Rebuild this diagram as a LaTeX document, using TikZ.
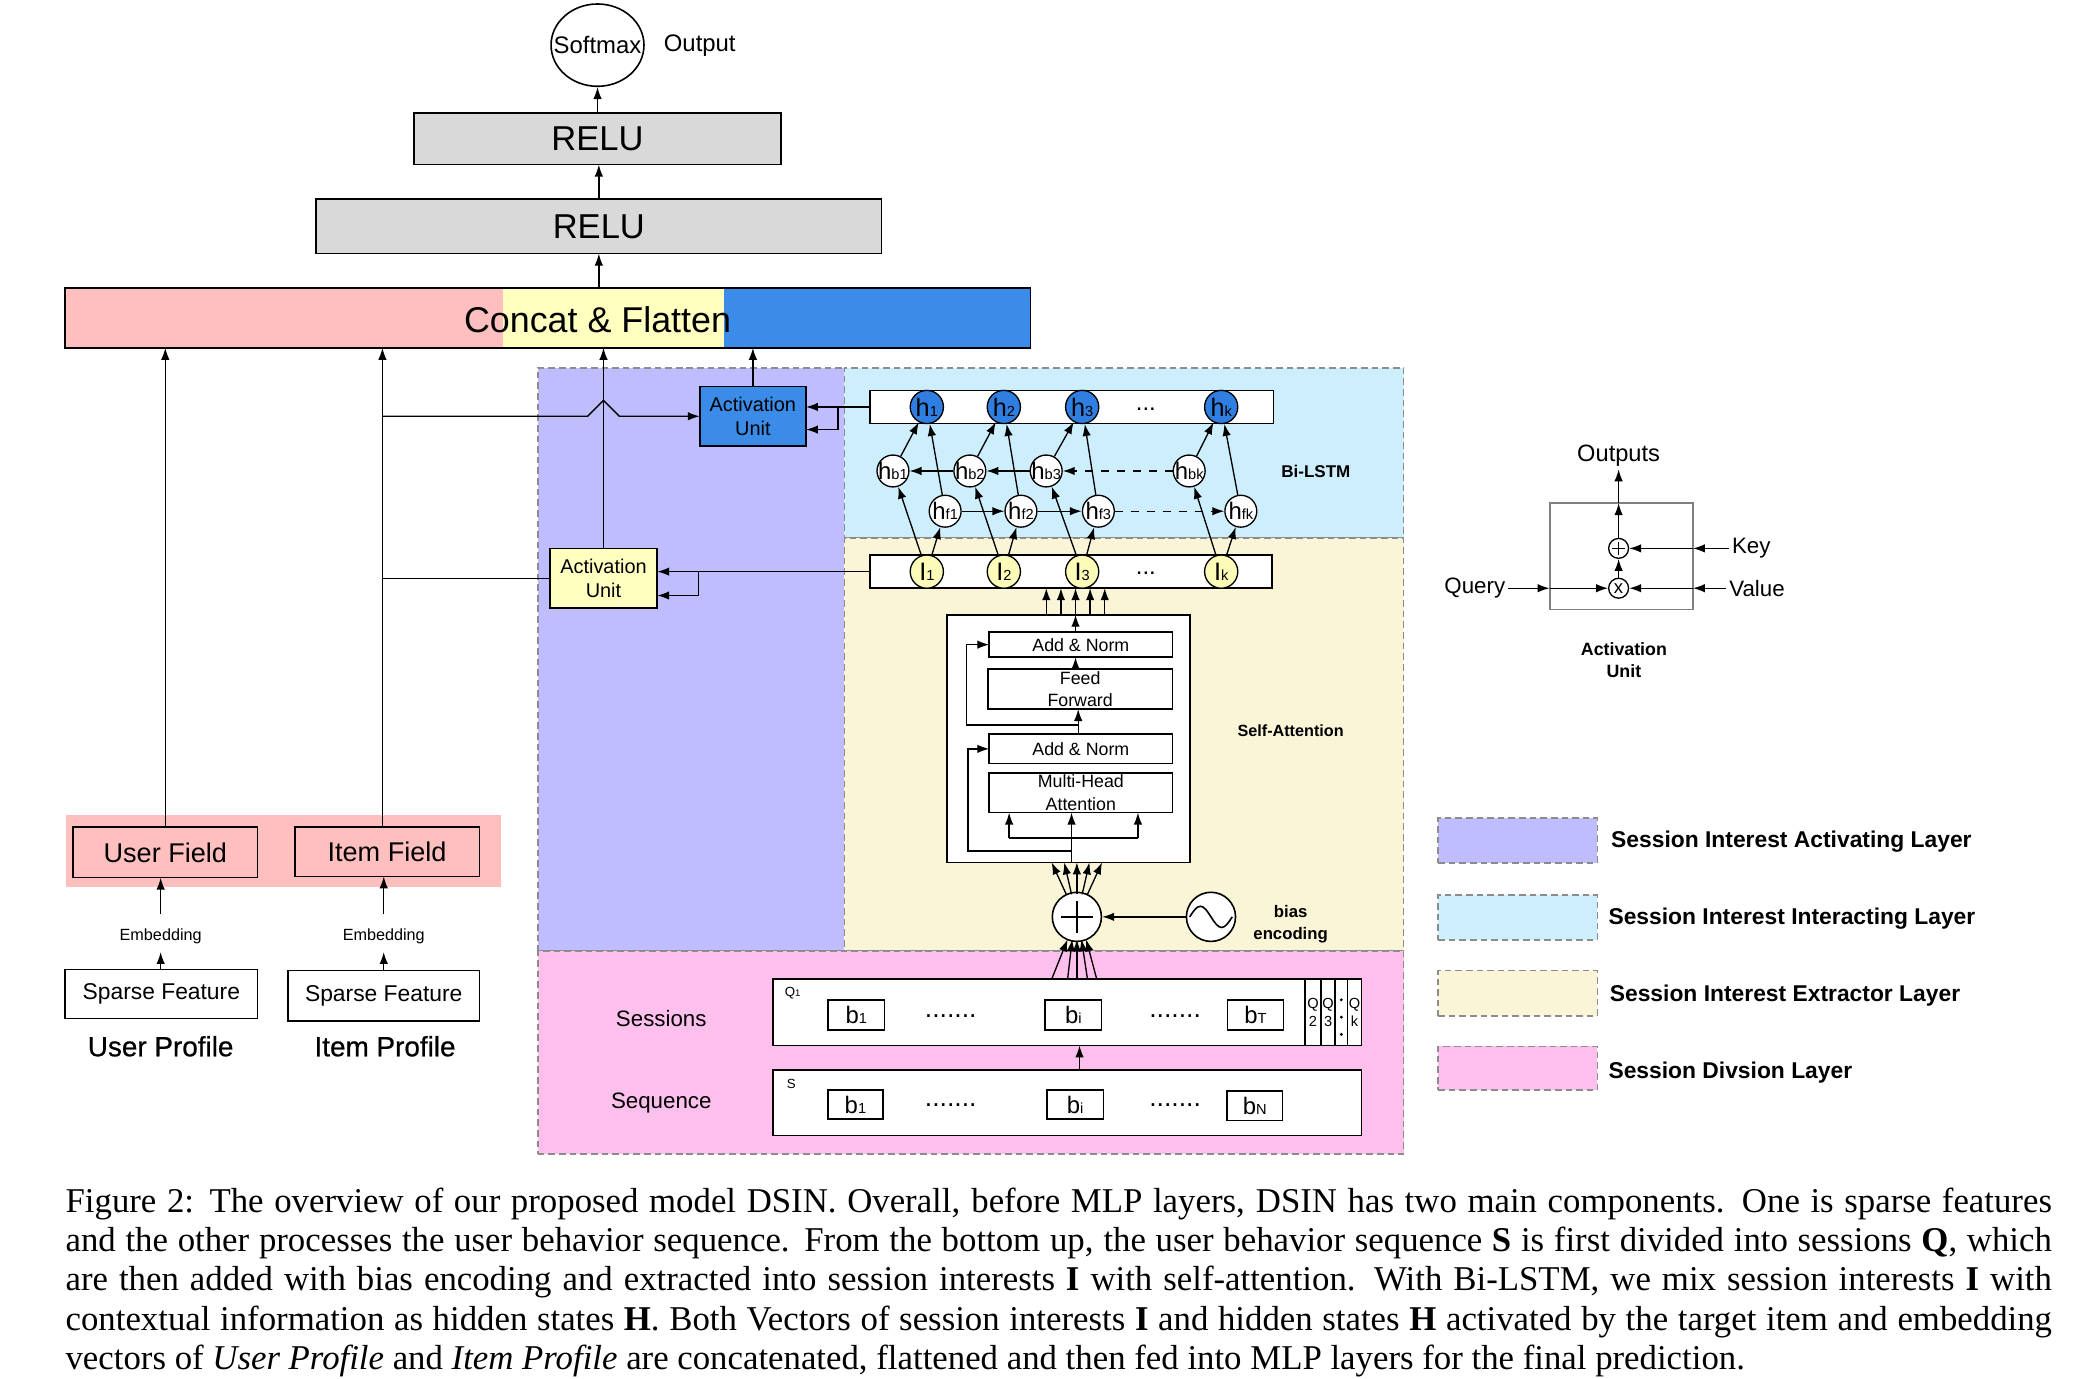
\documentclass[tikz,border=0pt]{standalone}
\usepackage{fontspec}
\setmainfont{Liberation Sans}
\newfontfamily\capfont{Liberation Serif}
\newfontfamily\semib[FakeBold=0.6]{Liberation Sans}
\usetikzlibrary{arrows.meta,shapes.geometric,calc,fit}
\setlength{\parindent}{0pt}
\definecolor{cpink}{HTML}{FFBFBF}
\definecolor{cyel}{HTML}{FFFFC0}
\definecolor{cblue}{HTML}{3B8CE9}
\definecolor{cgray}{HTML}{D9D9D9}
\definecolor{rpurple}{HTML}{BFBDFD}
\definecolor{rblue}{HTML}{CDEEFD}
\definecolor{ryel}{HTML}{FBF5D7}
\definecolor{rpink}{HTML}{FDBFEC}
\definecolor{hblue}{HTML}{2F7FE2}
\definecolor{iyel}{HTML}{FDFBB8}
\definecolor{dgray}{HTML}{8C8C8C}
\newcommand{\fs}[2]{\fontsize{#1}{#2}\selectfont}
\newcommand{\sbs}[1]{{\fs{5.5}{6}#1}}
\newcommand{\ssb}[1]{{\fs{3.6}{4}#1}}
\newcommand{\capline}[1]{\hbox to 748pt{#1}}
\begin{document}
\begin{tikzpicture}[x=0.5pt,y=-0.5pt,
  >={Latex[length=4.5pt,width=3.2pt]},
  arr/.style={->,line width=0.5pt},
  ln/.style={line width=0.5pt},
  box/.style={draw,line width=0.6pt,inner sep=0pt,outer sep=0pt},
  sz/.style 2 args={minimum width={#1*0.5pt},minimum height={#2*0.5pt}},
  region/.style={draw=dgray,dash pattern=on 2.5pt off 1.5pt,line width=0.6pt,inner sep=0pt,outer sep=0pt},
  lbl/.style={inner sep=1pt},
  hcirc/.style={circle,draw,line width=0.5pt,fill=hblue,minimum size=12.5pt,inner sep=0pt,font=\fs{9.5}{10}},
  mcirc/.style={circle,draw,line width=0.5pt,fill=white,minimum size=12pt,inner sep=0pt,font=\fs{9}{10}},
  icirc/.style={circle,draw,line width=0.5pt,fill=iyel,minimum size=12.5pt,inner sep=0pt,font=\fs{9.5}{10}},
  tf/.style={box,fill=white,font=\fs{6.7}{8.4},align=center},
  bb/.style={box,fill=white,font=\fs{9}{10}},
  qcol/.style={box,align=center,font=\fs{5.5}{6.5}},
  legtxt/.style={lbl,anchor=west,font=\bfseries\fs{8.6}{10}},
  dots/.style={anchor=base,inner sep=0pt,font=\fs{10}{11}},
]
\useasboundingbox (0,0) rectangle (1568,1038);
\fill[white] (0,0) rectangle (1568,1038);

% ---------- regions
\node[region,fill=rpurple,fit={(405,277)(636,716)}] (regact) {};
\node[region,fill=rblue,fit={(636,277)(1057,405)}] (reginter) {};
\node[region,fill=ryel,fit={(636,405)(1057,716)}] (regext) {};
\node[region,fill=rpink,fit={(405,716)(1057,869)}] (regdiv) {};

% ---------- top MLP
\node[ellipse,draw,line width=0.6pt,minimum width=35pt,minimum height=31pt,inner sep=0pt,font=\fs{9}{10}] (soft) at (450,34) {\makebox[0pt]{Softmax}};
\node[lbl,font=\fs{9}{10}] (outlbl) at (527,34) {Output};
\node[box,fill=cgray,sz={276}{39},font=\fs{13}{14}] (relu1) at (450,104.5) {RELU};
\node[box,fill=cgray,sz={426}{41},font=\fs{13}{14}] (relu2) at (451,170.5) {RELU};
\fill[cpink] (49,217) rectangle (379,262);
\fill[cyel] (379,217) rectangle (545,262);
\fill[cblue] (545,217) rectangle (776,262);
\node[box,fit={(49,217)(776,262)}] (concat) {};
\node[font=\fs{13.5}{15}] (concattxt) at (450,241) {Concat \& Flatten};
\draw[arr] (relu2.south |- concat.north) -- (relu2.south);
\draw[arr] (relu2.north) -- (relu2.north |- relu1.south);
\draw[arr] (relu1.north) -- (soft.south);

% ---------- left column
\node[fill=cpink,inner sep=0pt,fit={(50,614)(377,668)}] (fieldband) {};
\node[box,fill=cpink,sz={139}{38},font=\fs{10.2}{12}] (ufield) at (124.5,642) {User Field};
\node[box,fill=cpink,sz={139}{37},font=\fs{10.2}{12}] (ifield) at (291.5,641.5) {Item Field};
\node[lbl,font=\fs{6.1}{7}] (emb1) at (121,705) {Embedding};
\node[lbl,font=\fs{6.1}{7}] (emb2) at (289,705) {Embedding};
\node[box,fill=white,sz={145}{37},font=\fs{8.6}{10}] (usp) at (121.5,748.5) {Sparse Feature};
\node[box,fill=white,sz={144}{38},font=\fs{8.6}{10}] (isp) at (289,750) {Sparse Feature};
\node[lbl,font=\semib\fs{10.5}{12}] (uprof) at (121,788) {User Profile};
\node[lbl,font=\semib\fs{10.5}{12}] (iprof) at (290,788) {Item Profile};
\draw[arr] (usp.north -| emb1) -- ($(emb1.center)+(0,12)$);
\draw[arr] ($(emb1.center)+(0,-17)$) -- (emb1 |- ufield.south);
\draw[arr] (isp.north -| emb2) -- ($(emb2.center)+(0,12)$);
\draw[arr] ($(emb2.center)+(0,-17)$) -- (emb2 |- ifield.south);
\coordinate (ifn) at ($(ifield.north)+(-3.5,0)$);
\draw[arr] (ufield.north) -- (ufield.north |- concat.south);
\draw[arr] (ifn) -- (ifn |- concat.south);

% ---------- activation units
\node[box,fill=cblue,sz={80}{45},align=center,font=\fs{7.5}{9}] (bau) at (567,313.5) {Activation\\Unit};
\node[box,fill=cyel,sz={81}{45},align=center,font=\fs{7.5}{9}] (yau) at (454.5,435.5) {Activation\\Unit};
\draw[arr] (yau.north) -- (yau.north |- concat.south);
\draw[arr] (bau.north) -- (bau.north |- concat.south);
\draw[arr] (ifn |- bau.west) -- ($(yau.north |- bau.west)+(-12,0)$) -- ++(12,-12) -- ++(12,12) -- (bau.west);
\draw[ln] (ifn |- yau.west) -- (yau.west);

% ---------- Bi-LSTM rows
\node[box,fill=white,fit={(655,294)(959,319)}] (hbox) {};
\node[box,fill=white,fit={(655,418)(958,443)}] (ibox) {};
\foreach \n/\x in {1/698,2/756,3/815,k/919.7} {
  \node[hcirc] (h\n) at (\x,306.5) {\makebox[0pt]{h\sbs{\n}}};
  \node[icirc] (I\n) at (\x,430.5) {\makebox[0pt]{I\sbs{\n}}};
}
\node[anchor=base,inner sep=0pt,font=\fs{9}{10}] (hdots) at (863,309) {...};
\node[anchor=base,inner sep=0pt,font=\fs{9}{10}] (idots) at (863,433) {...};
\foreach \n/\x in {1/672.5,2/730.4,3/787.9,k/895.6}
  \node[mcirc] (hb\n) at (\x,354.7) {\makebox[0pt]{h\sbs{b\n}}};
\foreach \n/\x in {1/711.8,2/768.9,3/827.2,k/934.5}
  \node[mcirc] (hf\n) at (\x,385) {\makebox[0pt]{h\sbs{f\n}}};
\foreach \n in {1,2,3,k} {
  \draw[arr] (hb\n) -- (h\n);
  \draw[arr] (hf\n) -- (h\n);
  \draw[arr] (I\n) -- (hb\n);
  \draw[arr] (I\n) -- (hf\n);
}
\draw[arr] (hb2) -- (hb1);
\draw[arr] (hb3) -- (hb2);
\draw[arr,dashed] (hbk) -- (hb3);
\draw[arr] (hf1) -- (hf2);
\draw[arr] (hf2) -- (hf3);
\draw[arr,dashed] (hf3) -- (hfk);
\node[lbl,font=\bfseries\fs{6.4}{7}] (bilstm) at (991,355) {Bi-LSTM};

\draw[arr] (hbox.west) -- (hbox.west -| bau.east);
\coordinate (hbr) at ($(hbox.west)+(-24,0)$);
\draw[arr] (hbr) |- ($(bau.east)+(0,10)$);
\draw[arr] (ibox.west) -- (ibox.west -| yau.east);
\coordinate (ibr) at ($(ibox.west)+(-129,0)$);
\draw[arr] (ibr) |- ($(yau.east)+(0,13)$);

% ---------- self-attention block
\node[box,fill=white,fit={(713,463)(896,649.5)}] (tbox) {};
\node[tf,sz={138}{19}] (an1) at (814,485.5) {Add \& Norm};
\node[tf,sz={139}{30}] (ff) at (813.5,519) {Feed\\Forward};
\node[tf,sz={138}{22}] (an2) at (814,564) {Add \& Norm};
\node[tf,sz={138}{30}] (mha) at (814,597) {Multi-Head\\Attention};
\coordinate (tx) at (810,0);
\foreach \d in {-22,-11,0,11,22}
  \draw[arr] ($(tx |- tbox.north)+(\d,0)$) -- ($(tx |- ibox.south)+(\d,0)$);
\draw[arr] (tx |- an1.north) -- (tx |- tbox.north);
\draw[arr] (tx |- ff.north) -- (tx |- an1.south);
\coordinate (tx2) at (812,0);
\draw[arr] (tx2 |- an2.north) -- (tx2 |- ff.south);
\coordinate (r1) at (812,546);
\draw[arr] (r1) -| ($(an1.west)+(-17,0)$) -- (an1.west);
\coordinate (tx3) at (807,0);
\coordinate (r2) at (807,641);
\draw[arr] (r2) -| ($(an2.west)+(-16,0)$) -- (an2.west);
\draw[arr] (tx3 |- tbox.south) -- (tx3 |- mha.south);
\coordinate (ml) at (760,631);
\coordinate (mr) at (857,631);
\draw[ln] (ml) -- (mr);
\draw[arr] (ml) -- (ml |- mha.south);
\draw[arr] (mr) -- (mr |- mha.south);
\node[lbl,font=\bfseries\fs{6.1}{7}] (selfatt) at (972,550) {Self-Attention};

% ---------- bias encoding
\node[circle,draw,line width=0.6pt,fill=white,minimum size=18.5pt,inner sep=0pt] (plus) at (811,690.5) {};
\draw[line width=0.6pt] ($(plus.center)+(-12,0)$) -- ($(plus.center)+(12,0)$);
\draw[line width=0.6pt] ($(plus.center)+(0,-12)$) -- ($(plus.center)+(0,12)$);
\node[circle,draw,line width=0.6pt,fill=white,minimum size=18.5pt,inner sep=0pt] (sine) at (912,690.5) {};
\draw[line width=0.6pt] ($(sine.center)+(-16,0)$) sin ++(8,-8) cos ++(8,8) sin ++(8,8) cos ++(8,-8);
\draw[arr] (sine) -- (plus);
\foreach \s/\e in {-8/-19,-4/-9.5,0/0,4/9.5,8/19}
  \draw[arr] ($(plus.center)+(\s,-17)$) -- ($(tbox.south -| plus.center)+(\e,0)$);
\node[lbl,align=center,font=\bfseries\fs{6.3}{8.4}] (bias) at (972,696) {bias\\encoding};

% ---------- session division
\node[box,fill=white,fit={(582,737.5)(1025.4,787.4)}] (sess) {};
\node[box,fill=white,fit={(582,805.8)(1025.4,855.2)}] (seq) {};
\node[qcol,sz={12.3}{49.9}] (q2) at (988.85,762.45) {Q\\2};
\node[qcol,sz={10.5}{49.9}] (q3) at (1000.25,762.45) {Q\\3};
\node[box,sz={9.3}{49.9}] (qdots) at (1010.15,762.45) {};
\node[qcol,sz={10.6}{49.9}] (qk) at (1020.1,762.45) {Q\\k};
\foreach \yy in {753,766,779} \fill ($(qdots.center |- 0,\yy)$) circle (0.6pt);
\node[lbl,font=\fs{5}{6}] (q1) at (597,748) {Q\ssb{1}};
\node[lbl,font=\fs{5}{6}] (slbl) at (596,816) {S};
\node[bb,sz={42.7}{22.6}] (sb1) at (644.85,764.3) {b\sbs{1}};
\node[bb,sz={42.7}{22.6}] (sbi) at (808.35,764.3) {b\sbs{i}};
\node[bb,sz={42.2}{22.6}] (sbT) at (945.5,764.3) {b\sbs{T}};
\node[bb,sz={41.5}{22.1}] (qb1) at (644.25,831.85) {b\sbs{1}};
\node[bb,sz={42.7}{22.1}] (qbi) at (809.65,831.85) {b\sbs{i}};
\node[bb,sz={42}{22.5}] (qbN) at (945,832.75) {b\sbs{N}};
\node[dots] (sd1) at (716,766) {.......};
\node[dots] (sd2) at (885,766) {.......};
\node[dots] (qd1) at (716,833) {.......};
\node[dots] (qd2) at (885,833) {.......};
\node[lbl,font=\fs{8.4}{10}] (sesslbl) at (498,767) {Sessions};
\node[lbl,font=\fs{8.4}{10}] (seqlbl) at (498,831) {Sequence};
\coordinate (ax) at (813,0);
\draw[arr] (ax |- seq.north) -- (ax |- sess.south);
\foreach \s/\e in {-19/-7,-7/-3.5,0/0,8/3.5,15/7}
  \draw[arr] ($(sess.north -| plus.center)+(\s,0)$) -- ($(plus.center)+(\e,17)$);

% ---------- activation unit legend
\node[draw=gray,line width=0.7pt,inner sep=0pt,outer sep=0pt,fit={(1167,379)(1275,459)}] (aubox) {};
\node[circle,draw,line width=0.5pt,minimum size=7.5pt,inner sep=0pt,fill=white] (oplus) at (1219,413) {};
\draw[line width=0.5pt] ($(oplus.center)+(-5,0)$) -- ($(oplus.center)+(5,0)$);
\draw[line width=0.5pt] ($(oplus.center)+(0,-5)$) -- ($(oplus.center)+(0,5)$);
\node[circle,draw,line width=0.5pt,minimum size=7.5pt,inner sep=0pt,fill=white,font=\fs{7}{8}] (otimes) at (1219,443) {\makebox[0pt]{x}};
\node[lbl,font=\fs{8.9}{10}] (outputs) at (1219,343) {Outputs};
\draw[arr] (aubox.north -| oplus) -- (outputs.south);
\draw[arr] (oplus) -- (aubox.north -| oplus);
\draw[arr] (otimes) -- (oplus);
\node[lbl,anchor=west,font=\fs{8.4}{10}] (key) at (1302,413) {Key};
\node[lbl,anchor=west,font=\fs{8.4}{10}] (value) at (1300,443) {Value};
\node[lbl,anchor=east,font=\fs{8.4}{10}] (query) at (1136,443) {Query};
\draw[arr] (key.west) -- (key.west -| aubox.east);
\draw[arr] (oplus -| aubox.east) -- (oplus);
\draw[arr] (value.west) -- (value.west -| aubox.east);
\draw[arr] (otimes -| aubox.east) -- (otimes);
\draw[arr] (query.east) -- (query.east -| aubox.west);
\draw[arr] (query.east -| aubox.west) -- (otimes);
\node[lbl,align=center,font=\bfseries\fs{6.7}{8.5}] (aulbl) at (1223,497) {Activation\\Unit};

% ---------- layer legend
\node[region,fill=rpurple,fit={(1083,616)(1203,650)}] (lg1) {};
\node[region,fill=rblue,fit={(1083,674)(1203,708)}] (lg2) {};
\node[region,fill=ryel,fit={(1083,731)(1203,765)}] (lg3) {};
\node[region,fill=rpink,fit={(1083,788)(1203,821)}] (lg4) {};
\node[legtxt] (lt1) at (1211,634) {Session Interest Activating Layer};
\node[legtxt] (lt2) at (1209,692) {Session Interest Interacting Layer};
\node[legtxt] (lt3) at (1210,750) {Session Interest Extractor Layer};
\node[legtxt] (lt4) at (1209,807.5) {Session Divsion Layer};

% ---------- caption
\node[anchor=north west,inner sep=0pt,font=\capfont\fs{13.1}{14.8}] (caption) at (49,894) {\vbox{%
\spaceskip=0.25em plus 0.4em minus 0.13em
\capline{Figure 2: The overview of our proposed model DSIN. Overall, before MLP layers, DSIN has two main components. One is sparse features}
\capline{and the other processes the user behavior sequence. From the bottom up, the user behavior sequence \textbf{S} is first divided into sessions \textbf{Q}, which}
\capline{are then added with bias encoding and extracted into session interests \textbf{I} with self-attention. With Bi-LSTM, we mix session interests \textbf{I} with}
\capline{contextual information as hidden states \textbf{H}. Both Vectors of session interests \textbf{I} and hidden states \textbf{H} activated by the target item and embedding}
\hbox{vectors of \textit{User Profile} and \textit{Item Profile} are concatenated, flattened and then fed into MLP layers for the final prediction.}}};
\end{tikzpicture}
\end{document}
